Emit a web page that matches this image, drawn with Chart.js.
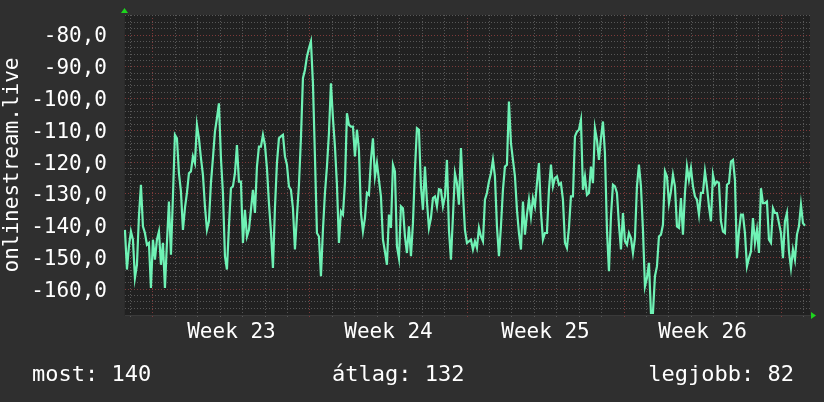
<!DOCTYPE html>
<html>
<head>
<meta charset="utf-8">
<script src="https://cdn.jsdelivr.net/npm/chart.js@4"></script>
<style>
  html, body { margin: 0; padding: 0; background: #2f2f2f; }
</style>
</head>
<body>
<canvas id="rrd" width="824" height="402"></canvas>
<script>
// time axis in hours, 0 = start of week 23
const weekLabels = ["Week 23", "Week 24", "Week 25", "Week 26"];
const weekStarts = [0, 168, 336, 504, 672];
const startHour = -30;
const stepHours = 2.14;

const yTicks = [-80, -90, -100, -110, -120, -130, -140, -150, -160];
const yTickLabels = ["-80,0", "-90,0", "-100,0", "-110,0", "-120,0", "-130,0", "-140,0", "-150,0", "-160,0"];

const footer = ["most: 140", "átlag: 132", "legjobb: 82"];

// signal readings, one per sample
const seg1 = [
	-141.3, -153.8, -146.5, -141.8, -144.4, -156.4, -152.3, -137.1, -127.1, -140.2,
	-142.3, -146.0, -145.4, -159.6, -144.4, -150.7, -144.4, -141.8, -152.3, -145.4,
	-159.6, -145.4, -132.4, -149.1, -130.8, -111.4, -112.5, -123.5, -129.2, -141.3,
	-134.5, -129.7, -123.5, -122.9, -118.2, -120.3, -108.3, -112.5, -118.7, -124.0,
	-133.9, -141.3, -138.6, -126.6, -118.7, -110.4, -106.2, -101.5, -118.7, -129.7,
	-149.6, -153.8, -140.2, -128.2, -127.6, -123.5, -114.6, -126.1,
];
const seg2 = [
	-126.1, -145.4, -135.0, -143.4, -141.3, -135.0, -128.7, -136.0, -121.4, -115.1,
	-115.1, -111.4, -114.6, -121.9, -132.9, -141.8, -153.3, -134.5, -120.3, -112.5,
	-111.9, -111.4, -118.2, -120.8, -127.6, -128.7, -134.5, -147.5, -137.1, -127.1,
	-112.5, -93.6, -91.0, -86.8, -84.2, -82.0, -95.2, -118.2, -142.3, -143.4,
	-155.9, -141.3, -129.7, -121.4, -110.9, -95.2, -106.2, -115.1, -127.1, -145.4,
	-135.5, -136.5, -126.6, -104.6, -108.3, -108.8, -108.8, -118.2,
];
const seg3 = [
	-109.8, -116.1, -136.0, -141.8, -137.6, -129.7, -130.3, -119.3, -112.5, -124.5,
	-120.3, -125.6, -130.8, -144.4, -148.1, -152.3, -136.5, -140.7, -120.8, -122.9,
	-146.5, -150.2, -133.9, -134.5, -143.4, -148.6, -140.2, -149.6, -139.2, -122.4,
	-109.3, -109.8, -127.6, -135.0, -121.4, -132.4, -140.7, -137.6, -131.3, -130.8,
	-133.9, -128.5, -128.7, -133.9, -130.8, -119.3, -141.3, -150.7, -137.1, -123.5,
	-126.6, -133.4, -115.6, -129.7, -141.3, -145.4, -144.9, -144.4,
];
const seg4 = [
	-147.5, -144.9, -147.0, -140.7, -143.4, -144.9, -131.8, -129.7, -126.1, -123.5,
	-119.3, -124.5, -140.2, -149.6, -140.2, -128.7, -121.4, -120.8, -100.9, -114.0,
	-119.3, -124.5, -135.0, -142.3, -147.5, -132.4, -142.8, -136.5, -131.8, -137.1,
	-131.3, -133.9, -126.6, -120.3, -135.5, -144.4, -142.3, -142.3, -128.7, -120.8,
	-127.6, -125.0, -124.5, -127.1, -126.6, -131.8, -145.4, -147.0, -140.7, -130.8,
	-130.8, -111.9, -110.4, -109.8, -106.7, -128.7, -124.5, -130.3,
];
const seg5 = [
	-129.7, -121.4, -126.6, -109.3, -113.0, -119.3, -112.5, -107.2, -117.2, -141.3,
	-154.3, -137.1, -127.1, -127.6, -129.7, -139.7, -147.5, -136.0, -144.9, -146.0,
	-142.3, -143.9, -148.6, -143.9, -127.6, -120.8, -127.6, -141.3, -159.1, -156.4,
	-151.7, -167.4, -167.4, -155.9, -152.8, -143.4, -142.8, -139.7, -122.9, -124.5,
	-132.9, -129.2, -124.0, -127.6, -140.2, -140.7, -131.3, -142.8, -129.7, -121.4,
	-125.6, -121.9, -127.6, -130.8, -131.8, -136.5, -129.7, -129.7,
];
const seg6 = [
	-122.9, -127.6, -133.9, -138.6, -124.0, -127.1, -126.1, -126.6, -138.6, -141.8,
	-142.3, -127.1, -126.6, -119.8, -119.3, -125.6, -150.2, -141.8, -136.5, -136.5,
	-142.3, -152.8, -150.2, -148.1, -137.6, -145.4, -141.3, -148.6, -128.2, -132.9,
	-132.9, -132.4, -144.4, -145.4, -134.5, -136.0, -136.0, -139.2, -142.3, -150.2,
	-138.6, -136.0, -148.1, -153.3, -147.5, -150.7, -142.8, -140.2, -133.4, -139.2,
	-140.0,
];

const signal = [...seg1, ...seg2, ...seg3, ...seg4, ...seg5, ...seg6];
const points = signal.map((v, i) => ({ x: startHour + i * stepHours, y: v }));

const FONT = { family: "DejaVu Sans Mono", size: 21 };
const FOOT_FONT = "22px DejaVu Sans Mono";
const MINOR = "#575757";
const MAJOR = "#7d3a3a";

const rrdFrame = {
	id: "rrdFrame",
	beforeDraw(chart) {
		const { ctx, chartArea: a } = chart;
		ctx.save();
		ctx.fillStyle = "#2f2f2f";
		ctx.fillRect(0, 0, chart.width, chart.height);
		ctx.fillStyle = "#212121";
		ctx.fillRect(a.left, a.top, a.right - a.left, a.bottom - a.top);
		ctx.restore();
	},
	afterDraw(chart) {
		const { ctx, chartArea: a } = chart;
		ctx.save();
		// axis arrows
		ctx.fillStyle = "#1ed41e";
		ctx.beginPath();
		ctx.moveTo(a.left - 3, a.top - 2);
		ctx.lineTo(a.left + 4, a.top - 2);
		ctx.lineTo(a.left + 0.5, a.top - 7);
		ctx.closePath();
		ctx.fill();
		ctx.beginPath();
		ctx.moveTo(a.right + 1, a.bottom - 3);
		ctx.lineTo(a.right + 1, a.bottom + 4);
		ctx.lineTo(a.right + 6, a.bottom + 0.5);
		ctx.closePath();
		ctx.fill();
		// summary line
		ctx.fillStyle = "#ffffff";
		ctx.font = FOOT_FONT;
		ctx.textBaseline = "alphabetic";
		ctx.textAlign = "left";
		ctx.fillText(footer[0], 32, 381);
		ctx.fillText(footer[1], 332, 381);
		ctx.textAlign = "right";
		ctx.fillText(footer[2], 794, 381);
		ctx.restore();
	},
};

new Chart(document.getElementById("rrd"), {
	type: "line",
	data: {
		datasets: [
			{
				data: points,
				borderColor: "#6ff2b5",
				borderWidth: 2.2,
				pointRadius: 0,
				tension: 0,
				fill: false,
			},
		],
	},
	options: {
		responsive: false,
		animation: false,
		devicePixelRatio: 1,
		layout: { padding: { top: 15, right: 14, left: 0, bottom: 0 } },
		plugins: {
			legend: { display: false },
			tooltip: { enabled: false },
		},
		scales: {
			x: {
				type: "linear",
				min: -31,
				max: 703,
				afterFit: (s) => {
					s.height = 87;
					s.paddingLeft = 0;
					s.paddingRight = 0;
				},
				afterBuildTicks: (s) => {
					const t = [];
					for (let h = -24; h <= 696; h += 24) t.push({ value: h });
					weekLabels.forEach((l, i) => t.push({ value: weekStarts[i] + 84 }));
					t.sort((p, q) => p.value - q.value);
					s.ticks = t;
				},
				ticks: {
					autoSkip: false,
					maxRotation: 0,
					color: "#ffffff",
					font: FONT,
					padding: 3,
					callback: (v) => {
						const i = weekStarts.indexOf(v - 84);
						return i >= 0 && i < weekLabels.length ? weekLabels[i] : "";
					},
				},
				grid: {
					lineWidth: 1,
					tickLength: 2,
					color: (c) => {
						const v = c.tick.value;
						if (v % 24 !== 0) return "rgba(0,0,0,0)";
						return v % 168 === 0 ? MAJOR : MINOR;
					},
				},
				border: { display: true, color: "#3a3a3a", dash: [1, 2] },
			},
			y: {
				type: "linear",
				min: -168.1,
				max: -73.7,
				afterFit: (s) => {
					s.width = 124;
					s.paddingTop = 0;
					s.paddingBottom = 0;
				},
				afterBuildTicks: (s) => {
					const t = [];
					for (let v = -166; v <= -74; v += 2) t.push({ value: v });
					s.ticks = t;
				},
				title: {
					display: true,
					text: "onlinestream.live",
					color: "#ffffff",
					font: FONT,
					padding: 0,
				},
				ticks: {
					autoSkip: false,
					color: "#ffffff",
					font: FONT,
					padding: 17,
					labelOffset: 2,
					callback: (v) => {
						const i = yTicks.indexOf(v);
						return i >= 0 ? yTickLabels[i] : "";
					},
				},
				grid: {
					lineWidth: 1,
					drawTicks: false,
					color: (c) => (c.tick.value % 10 === 0 ? MAJOR : MINOR),
				},
				border: { display: true, color: "#2b2b2b", dash: [1, 2] },
			},
		},
	},
	plugins: [rrdFrame],
});
</script>
</body>
</html>
